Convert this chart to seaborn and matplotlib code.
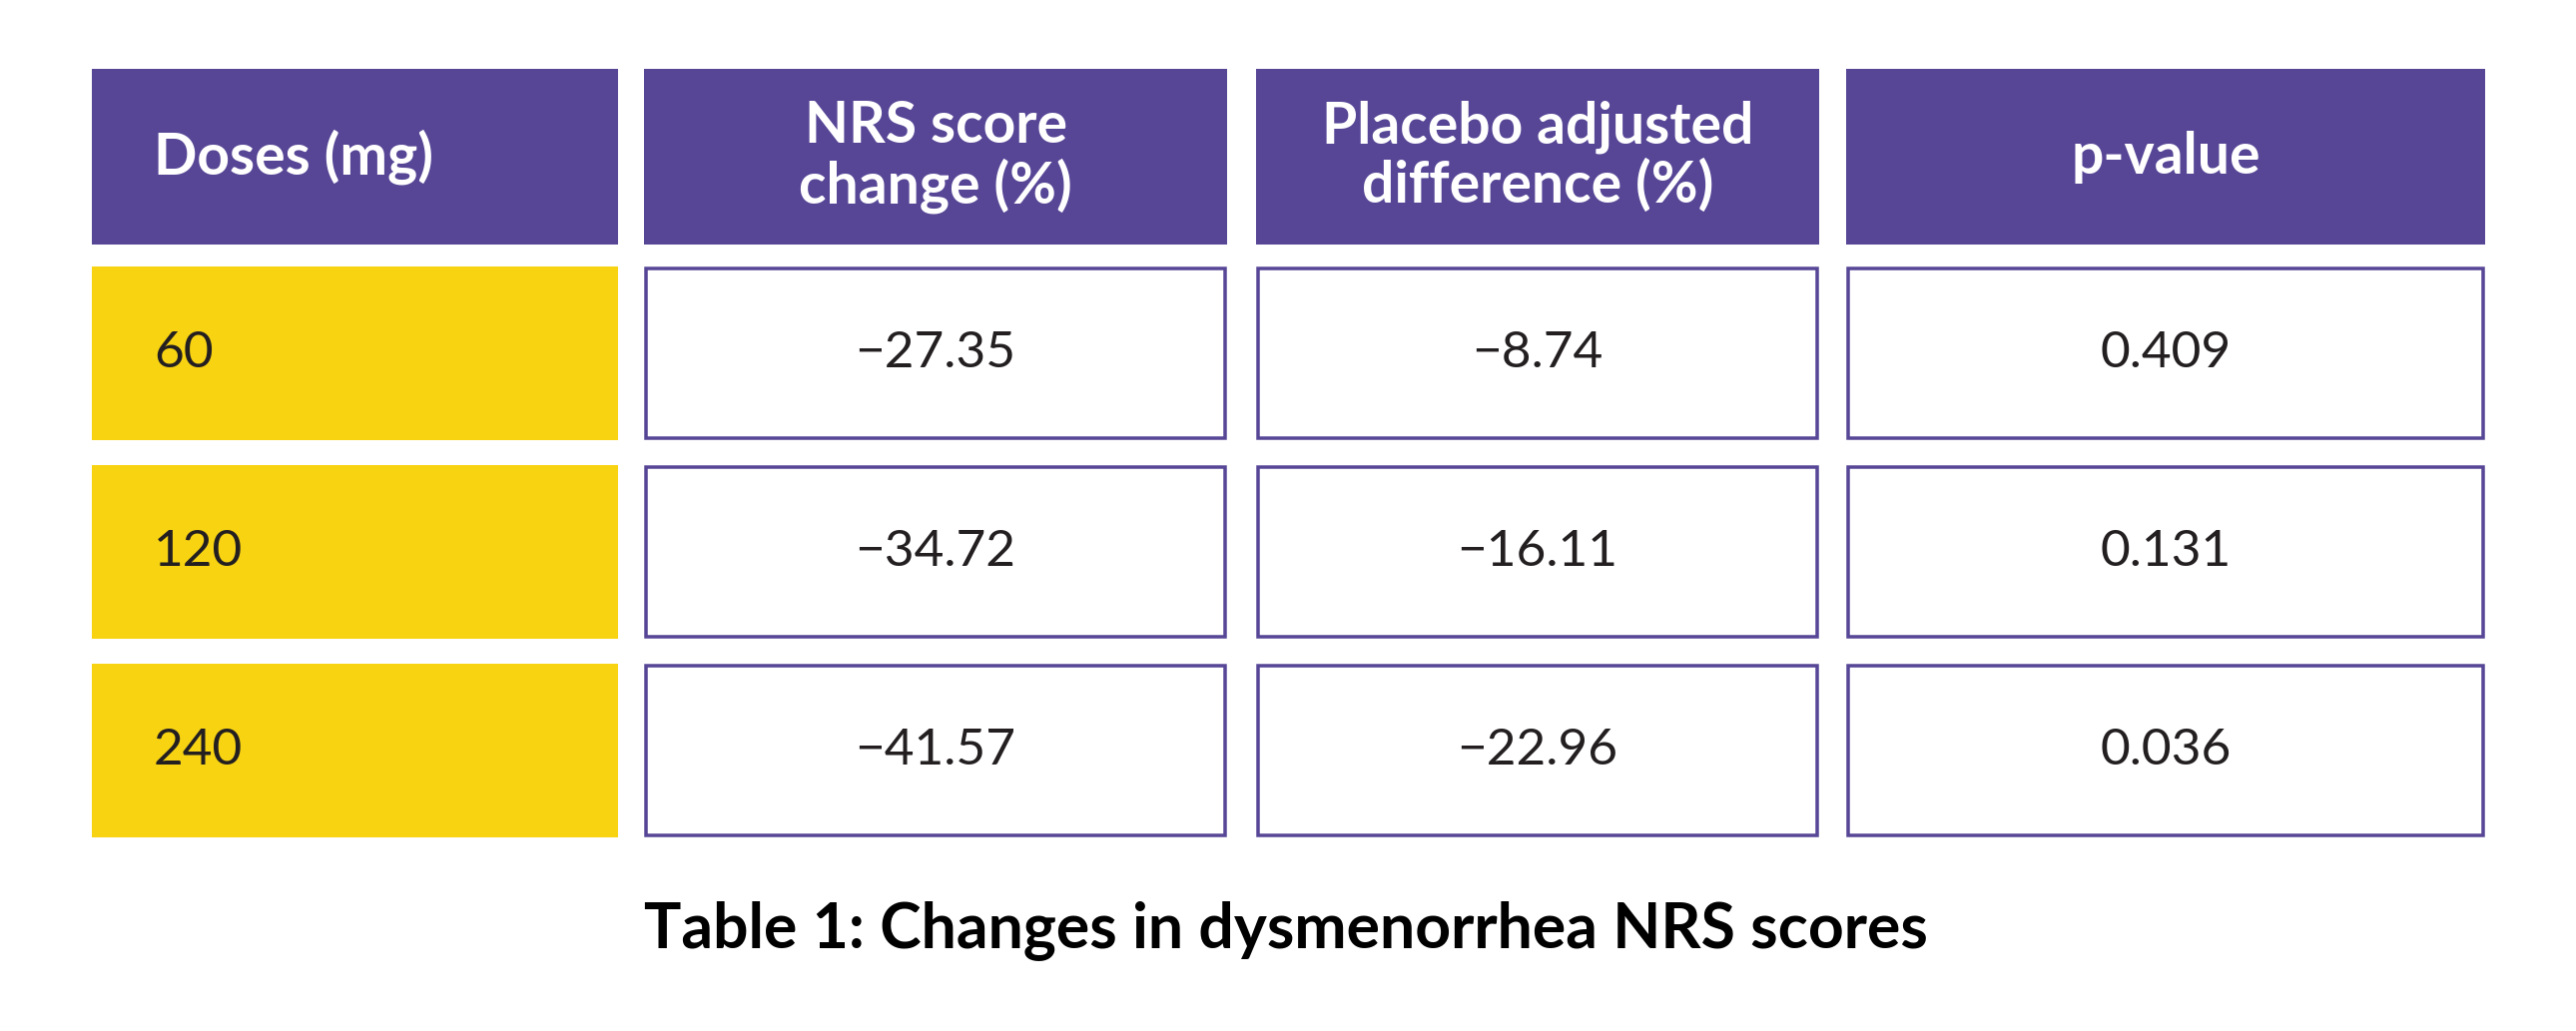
import matplotlib
matplotlib.use('Agg')
import matplotlib.pyplot as plt
from matplotlib.patches import Rectangle
import seaborn as sns

sns.set_style("white")
plt.rcParams['font.family'] = ['Lato', 'DejaVu Sans']

# table content
headers = ["Doses (mg)", "NRS score\nchange (%)", "Placebo adjusted\ndifference (%)", "p-value"]
doses = ["60", "120", "240"]
nrs_change = ["\u221227.35", "\u221234.72", "\u221241.57"]
placebo_diff = ["\u22128.74", "\u221216.11", "\u221222.96"]
p_values = ["0.409", "0.131", "0.036"]
caption = "Table 1: Changes in dysmenorrhea NRS scores"

# layout (pixel space of the 2580x1033 canvas)
W, H = 2580, 1033
col_left = [92, 645, 1258, 1849]
col_right = [619, 1229, 1822, 2489]
header_top, header_bottom = 69, 245
row_tops = [267, 466, 665]
row_h = 174

purple = "#574696"
yellow = "#F8D312"
text_dark = "#231f20"

fig = plt.figure(figsize=(W / 100, H / 100), dpi=100)
ax = fig.add_axes([0, 0, 1, 1])
ax.set_xlim(0, W)
ax.set_ylim(H, 0)
ax.axis('off')

# header row
for i, label in enumerate(headers):
    x0, x1 = col_left[i], col_right[i]
    ax.add_patch(Rectangle((x0, header_top), x1 - x0, header_bottom - header_top,
                           facecolor=purple, edgecolor='none'))
    yc = (header_top + header_bottom) / 2
    if i == 0:
        ax.text(x0 + 62, yc, label, color='white', fontsize=41, fontweight='bold',
                ha='left', va='center', linespacing=1.1)
    else:
        ax.text((x0 + x1) / 2, yc, label, color='white', fontsize=41, fontweight='bold',
                ha='center', va='center', linespacing=1.1)

# body rows
columns = [doses, nrs_change, placebo_diff, p_values]
lw = 3.5
for r, top in enumerate(row_tops):
    yc = top + row_h / 2
    for c, col in enumerate(columns):
        x0, x1 = col_left[c], col_right[c]
        if c == 0:
            ax.add_patch(Rectangle((x0, top), x1 - x0, row_h,
                                   facecolor=yellow, edgecolor='none'))
            ax.text(x0 + 62, yc, col[r], color=text_dark, fontsize=37,
                    ha='left', va='center')
        else:
            ax.add_patch(Rectangle((x0 + lw / 2, top + lw / 2), x1 - x0 - lw, row_h - lw,
                                   facecolor='white', edgecolor=purple,
                                   linewidth=lw * 72 / 100))
            ax.text((x0 + x1) / 2, yc, col[r], color=text_dark, fontsize=37,
                    ha='center', va='center')

ax.text(1288, 932, caption, color='black', fontsize=45, fontweight='bold',
        ha='center', va='center')

fig.savefig('out.png', dpi=100, facecolor='white')
plt.close(fig)
